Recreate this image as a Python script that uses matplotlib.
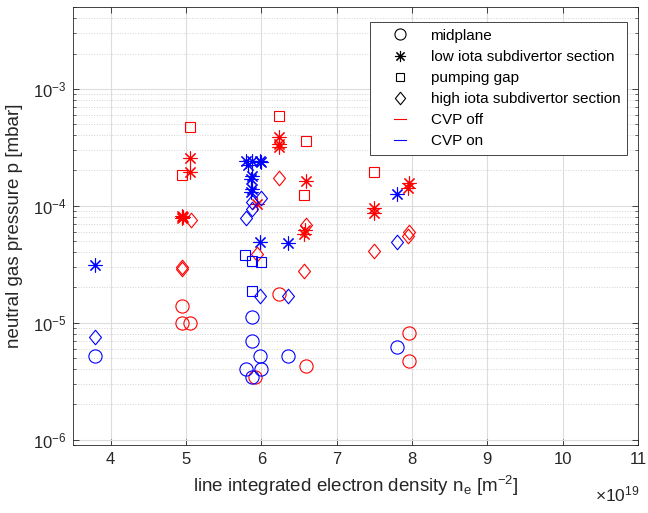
import matplotlib
matplotlib.use("Agg")
import matplotlib.pyplot as plt
from matplotlib.legend_handler import HandlerLine2D
from matplotlib.lines import Line2D
from matplotlib.path import Path
from matplotlib.ticker import LogLocator, NullFormatter


# CVP off (red)
off_mid_x = [4.94, 4.94, 5.05, 5.91, 6.23, 6.59, 7.96, 7.96]
off_mid_y = [1.39e-5, 9.9e-6, 9.9e-6, 3.4e-6, 1.75e-5, 4.3e-6, 8.2e-6, 4.7e-6]

off_low_x = [4.94, 4.95, 4.96, 5.05, 5.05, 5.94, 6.23, 6.23, 6.24,
             6.59, 6.58, 6.57, 7.50, 7.50, 7.96, 7.95]
off_low_y = [8.2e-5, 7.9e-5, 8.0e-5, 2.55e-4, 1.95e-4, 1.04e-4, 3.85e-4, 3.2e-4, 3.4e-4,
             1.62e-4, 6.2e-5, 5.7e-5, 9.5e-5, 8.6e-5, 1.55e-4, 1.42e-4]

off_gap_x = [4.94, 5.05, 6.24, 6.59, 6.56, 7.50, 7.96]
off_gap_y = [1.83e-4, 4.7e-4, 5.8e-4, 3.55e-4, 1.24e-4, 1.93e-4, 3.1e-4]

off_high_x = [4.95, 4.95, 5.06, 5.94, 6.24, 6.56, 6.59, 7.50, 7.94, 7.96]
off_high_y = [2.9e-5, 3.0e-5, 7.5e-5, 3.9e-5, 1.72e-4, 2.75e-5, 6.9e-5, 4.1e-5, 5.5e-5, 6.0e-5]

# CVP on (blue)
on_mid_x = [3.79, 5.79, 5.87, 5.87, 5.87, 5.98, 6.00, 6.36, 7.80]
on_mid_y = [5.2e-6, 4.0e-6, 1.12e-5, 7.0e-6, 3.45e-6, 5.2e-6, 4.0e-6, 5.2e-6, 6.2e-6]

on_low_x = [3.79, 5.80, 5.87, 5.98, 5.82, 6.00, 5.87, 5.86, 5.87, 5.86, 5.98, 6.36, 7.80]
on_low_y = [3.1e-5, 2.4e-4, 2.4e-4, 2.4e-4, 2.25e-4, 2.35e-4, 1.8e-4, 1.7e-4, 1.38e-4, 1.3e-4,
            4.9e-5, 4.8e-5, 1.25e-4]

on_gap_x = [5.78, 5.87, 5.99, 5.87]
on_gap_y = [3.8e-5, 3.35e-5, 3.3e-5, 1.85e-5]

on_high_x = [3.79, 5.79, 5.87, 5.88, 5.99, 5.98, 6.36, 7.80]
on_high_y = [7.6e-6, 7.9e-5, 9.3e-5, 1.08e-4, 1.17e-4, 1.7e-5, 1.7e-5, 4.85e-5]

x_ticks = [4, 5, 6, 7, 8, 9, 10, 11]

plt.rcParams["font.family"] = ["Liberation Sans", "DejaVu Sans"]
plt.rcParams["mathtext.fontset"] = "custom"
plt.rcParams["mathtext.rm"] = "Liberation Sans"
plt.rcParams["mathtext.it"] = "Liberation Sans:italic"

RED = "#ff0000"
BLUE = "#0000ff"
TXT = "#262626"
STAR = (8, 2, 0)
# MATLAB style diamond: a bit narrower than tall
DIAMOND = Path([(0, 1), (0.82, 0), (0, -1), (-0.82, 0), (0, 1)],
               [Path.MOVETO, Path.LINETO, Path.LINETO, Path.LINETO, Path.CLOSEPOLY])


class ShortLine(HandlerLine2D):
    # legend line drawn short and centred in the handle box
    def get_xdata(self, legend, xdescent, ydescent, width, height, fontsize):
        c = -xdescent + width / 2
        return [c - 4.5, c + 4.5], [c]


fig = plt.figure(figsize=(6.48, 5.13), dpi=100)
ax = fig.add_axes([0.1127, 0.1326, 0.8719, 0.8538])

series = [
    (off_mid_x, off_mid_y, "o", 9.5, RED),
    (off_low_x, off_low_y, STAR, 10, RED),
    (off_gap_x, off_gap_y, "s", 7, RED),
    (off_high_x, off_high_y, DIAMOND, 10.5, RED),
    (on_mid_x, on_mid_y, "o", 9.5, BLUE),
    (on_low_x, on_low_y, STAR, 10, BLUE),
    (on_gap_x, on_gap_y, "s", 7, BLUE),
    (on_high_x, on_high_y, DIAMOND, 10.5, BLUE),
]
for xs, ys, mk, ms, col in series:
    ax.plot(xs, ys, linestyle="none", marker=mk, markersize=ms,
            markerfacecolor="none", markeredgecolor=col, markeredgewidth=0.8, zorder=3)

ax.set_yscale("log")
ax.set_xlim(3.5, 11)
ax.set_ylim(9e-7, 5e-3)
ax.set_xticks(x_ticks)
ax.set_xticklabels([str(t) for t in x_ticks])
ax.yaxis.set_major_locator(LogLocator(base=10, numticks=10))
ax.yaxis.set_minor_locator(LogLocator(base=10, subs=range(2, 10), numticks=20))
ax.yaxis.set_minor_formatter(NullFormatter())

ax.grid(True, which="major", color="#dcdcdc", linewidth=0.8, linestyle="-", zorder=0)
ax.grid(True, which="minor", axis="y", color="#d2d2d2", linewidth=0.7, linestyle=":", zorder=0)
ax.set_axisbelow(True)

ax.tick_params(which="both", direction="in", top=True, right=True, labelsize=12,
               color=TXT, labelcolor=TXT)
ax.tick_params(which="major", length=4, width=0.6, pad=5)
ax.tick_params(which="minor", length=2, width=0.5)
for sp in ax.spines.values():
    sp.set_color(TXT)
    sp.set_linewidth(0.6)

ax.set_xlabel(r"line integrated electron density n$_\mathregular{e}$ [m$^\mathregular{-2}$]",
              fontsize=13.5, color=TXT, labelpad=5)
ax.set_ylabel("neutral gas pressure p [mbar]", fontsize=13.5, color=TXT, labelpad=7)
ax.text(1.003, -0.112, r"$\times$10$^{\mathregular{19}}$", transform=ax.transAxes,
        ha="right", va="center", fontsize=12.5, color=TXT)

handles = [
    Line2D([], [], linestyle="none", marker="o", markersize=8, markerfacecolor="none",
           markeredgecolor="black", markeredgewidth=0.8),
    Line2D([], [], linestyle="none", marker=STAR, markersize=8, markeredgecolor="black",
           markeredgewidth=0.8),
    Line2D([], [], linestyle="none", marker="s", markersize=5.5, markerfacecolor="none",
           markeredgecolor="black", markeredgewidth=0.8),
    Line2D([], [], linestyle="none", marker=DIAMOND, markersize=9, markerfacecolor="none",
           markeredgecolor="black", markeredgewidth=0.8),
    Line2D([], [], color=RED, linewidth=0.8),
    Line2D([], [], color=BLUE, linewidth=0.8),
]
labels = ["midplane", "low iota subdivertor section", "pumping gap",
          "high iota subdivertor section", "CVP off", "CVP on"]
leg = ax.legend(handles, labels, loc="upper right", bbox_to_anchor=(0.9805, 0.9658),
                borderaxespad=0, fontsize=11, frameon=True, fancybox=False,
                handlelength=3.0, handletextpad=0.5, labelspacing=0.46, borderpad=0.45,
                handler_map={Line2D: ShortLine()})
leg.get_frame().set_edgecolor(TXT)
leg.get_frame().set_linewidth(0.6)
leg.get_frame().set_alpha(1.0)

fig.savefig("out.png", dpi=100)
